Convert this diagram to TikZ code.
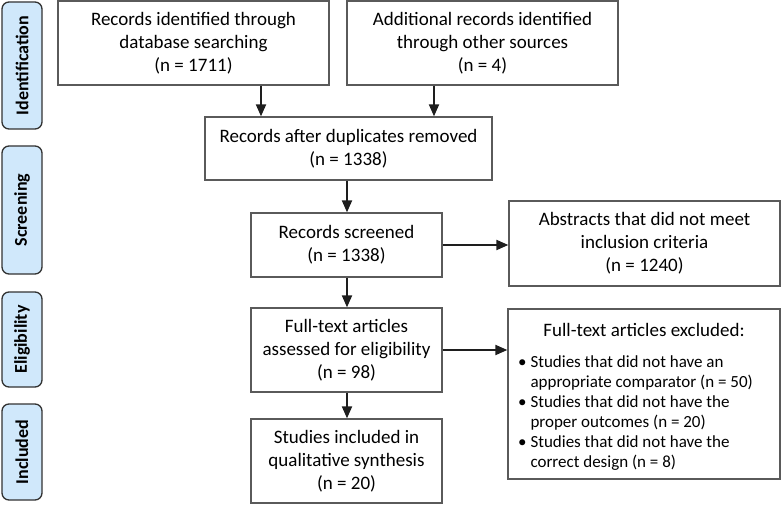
\documentclass[tikz,border=0pt]{standalone}
\usepackage{fontspec}
\setmainfont{Carlito}
\usetikzlibrary{arrows.meta}
\definecolor{boxline}{RGB}{90,90,90}
\definecolor{labfill}{RGB}{208,232,251}
\definecolor{labline}{RGB}{50,50,50}
\definecolor{arrcol}{RGB}{30,30,30}
\begin{document}
\begin{tikzpicture}[x=1pt,y=-1pt,
  box/.style={draw=boxline, line width=1.3pt, fill=white, inner sep=0pt, align=center, font=\fontsize{19}{23}\selectfont},
  phase/.style={draw=labline, fill=labfill, line width=1.3pt, rounded corners=7pt, inner sep=0pt, minimum height=40pt, rotate=90, font=\bfseries\fontsize{18}{20}\selectfont},
  arr/.style={draw=arrcol, line width=2pt, -{Triangle[length=12pt,width=10pt]}}]
\useasboundingbox (0,0) rectangle (781,505);
% phase labels
\node[phase, minimum width=127pt] (pid) at (22,65.5) {Identification};
\node[phase, minimum width=128pt] (pscr) at (22,210) {Screening};
\node[phase, minimum width=95pt] (pel) at (22,339.5) {Eligibility};
\node[phase, minimum width=96pt] (pinc) at (22,452) {Included};
% boxes
\node[box, minimum width=271pt, minimum height=84pt] (db) at (193.5,43) {Records identified through\\database searching\\(n = 1711)};
\node[box, minimum width=271pt, minimum height=84pt] (other) at (482.5,43) {Additional records identified\\through other sources\\(n = 4)};
\node[box, minimum width=287pt, minimum height=63pt] (dup) at (348.5,148.5) {Records after duplicates removed\\(n = 1338)};
\node[box, minimum width=191pt, minimum height=64pt] (scr) at (346.5,245) {Records screened\\(n = 1338)};
\node[box, minimum width=271pt, minimum height=85pt] (abs) at (644.5,243.5) {Abstracts that did not meet\\inclusion criteria\\(n = 1240)};
\node[box, minimum width=191pt, minimum height=84pt] (full) at (346.5,350) {Full-text articles\\assessed for eligibility\\(n = 98)};
\node[box, minimum width=272pt, minimum height=170pt] (excl) at (644,394) {};
\node[box, minimum width=191pt, minimum height=84pt] (incl) at (346.5,461) {Studies included in\\qualitative synthesis\\(n = 20)};
% excluded contents
\node[inner sep=0pt, font=\fontsize{19}{23}\selectfont] (extitle) at (644,330) {Full-text articles excluded:};
\node[anchor=north west, inner sep=0pt, align=left, font=\fontsize{17}{20}\selectfont] (exlist) at (518,355)
 {\textbullet\ Studies that did not have an\\
  \hphantom{\textbullet\ }appropriate comparator (n = 50)\\
  \textbullet\ Studies that did not have the\\
  \hphantom{\textbullet\ }proper outcomes (n = 20)\\
  \textbullet\ Studies that did not have the\\
  \hphantom{\textbullet\ }correct design (n = 8)};
% connectors
\coordinate (c1) at (261,0);
\coordinate (c2) at (434,0);
\coordinate (c3) at (347,0);
\draw[arr] (db.south -| c1) -- (dup.north -| c1);
\draw[arr] (other.south -| c2) -- (dup.north -| c2);
\draw[arr] (dup.south -| c3) -- (scr.north -| c3);
\draw[arr] (scr.east) -- (abs.west |- scr.east);
\draw[arr] (scr.south -| c3) -- (full.north -| c3);
\draw[arr] (full.east) -- (excl.west |- full.east);
\draw[arr] (full.south -| c3) -- (incl.north -| c3);
\end{tikzpicture}
\end{document}
